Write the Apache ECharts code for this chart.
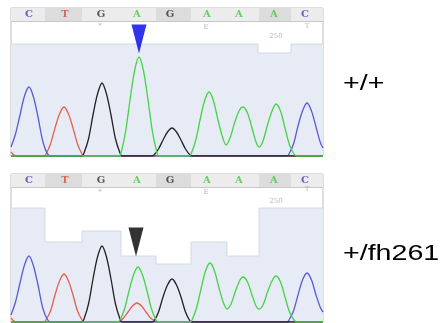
<!DOCTYPE html>
<html>
<head>
<meta charset="utf-8">
<script src="https://cdn.jsdelivr.net/npm/echarts@6/dist/echarts.min.js"></script>
<style>html,body{margin:0;padding:0;background:#fff}#c{width:443px;height:323px}</style>
</head>
<body>
<div id="c"></div>
<script>
// ---- shared data ----
const baseCalls = ['C','T','G','A','G','A','A','A','C'];
const baseCallPos = [18, 54, 90, 126, 159, 196, 228, 263, 294];
const headerCellEdges = [0, 34, 71, 110, 145, 180, 216, 248, 280, 312];
const shadedCells = [1, 4, 7];
const annotTexts = ['*', 'E', '250', 'T'];
const genotypeLabels = ['+/+', '+/fh261'];

// ---- wild type (+/+) panel ----
const wtTraceC = [[0,9],[4.5,22],[9,41],[13.5,60],[18,69],[22.5,59],[27,39],[31.5,16],[36,3],[40,0],[276,0],[278,2],[282.5,12],[287,30],[291.5,45],[296,53],[300.5,45],[305,29],[309.5,13],[312,8]];
const wtTraceT = [[0,4],[5,0],[33,0],[35,2],[39.5,12],[44,28],[48.5,42],[53,49],[57.5,42],[62,28],[66.5,12],[71,2],[73,0],[312,0]];
const wtTraceG = [[0,0],[71,0],[73,3],[77.5,17],[82,41],[86.5,62],[91,73],[95.5,62],[100,41],[104.5,17],[109,3],[111,0],[141,0],[143,1],[147.5,7],[152,16],[156.5,24],[161,28],[165.5,24],[170,16],[174.5,7],[179,1],[181,0],[312,0]];
const wtTraceA = [[0,0],[108,0],[110,3],[114.5,24],[119,56],[123.5,85],[128,99],[132.5,85],[137,56],[141.5,24],[146,3],[148,0],[178,0],[180,2],[184.5,15],[189,36],[193.5,55],[198,64],[202.5,55],[207,36],[211.5,19],[215,11],[219,18],[223.5,33],[228,45],[232,49],[236.5,43],[241,28],[245,14],[248,9],[252,15],[256.5,31],[261,45],[265,52],[269.5,45],[274,28],[278.5,11],[283,2],[286,0],[312,0]];
const wtQuality = [[0,112],[247,103],[280,112],[312,112]];
const wtAnnotPos = [[89,130],[195,129],[265,120],[296,130]];
const wtMarker = [128, 117];

// ---- mutant (+/fh261) panel ----
const mutTraceC = [[0,7],[4.5,20],[9,39],[13.5,57],[18,66],[22.5,56],[27,37],[31.5,15],[36,3],[40,0],[276,0],[278,2],[282.5,11],[287,27],[291.5,42],[296,49],[300.5,42],[305,27],[309.5,14],[312,10]];
const mutTraceT = [[0,4],[5,0],[33,0],[35,2],[39.5,11],[44,27],[48.5,41],[53,48],[57.5,41],[62,27],[66.5,11],[71,2],[73,0],[107,0],[109,1],[112.5,4],[117,10],[121.5,16],[126,19],[130.5,16],[135,10],[139.5,4],[144,1],[146,0],[312,0]];
const mutTraceG = [[0,0],[71,0],[73,3],[77.5,18],[82,43],[86.5,65],[91,76],[95.5,65],[100,43],[104.5,18],[109,3],[111,0],[141,0],[143,1],[147.5,10],[152,25],[156.5,37],[161,43],[165.5,37],[170,25],[174.5,10],[179,1],[181,0],[312,0]];
const mutTraceA = [[0,0],[107,0],[109,2],[113.5,13],[118,31],[122.5,47],[127,55],[131.5,47],[136,31],[140.5,13],[145,2],[147,0],[179,0],[181,2],[185.5,14],[190,33],[194.5,51],[199,59],[203.5,51],[208,34],[212.5,19],[216,13],[220,18],[224.5,31],[229,42],[232,45],[236.5,40],[241,27],[245,16],[248,13],[252,17],[256.5,30],[261,41],[265,46],[269.5,40],[274,25],[278.5,10],[283,2],[286,0],[312,0]];
const mutQuality = [[0,114],[34,80],[71,91],[110,66],[145,58],[180,80],[216,66],[248,114],[312,114]];
const mutAnnotPos = [[89,130],[195,130],[265,121],[296,133]];
const mutMarker = [125, 80];

const traceColors = {C:'#5a5ad6', T:'#e5604f', G:'#222222', A:'#44d444'};
const letterColors = {C:'#3f3fc4', T:'#e0473a', G:'#333333', A:'#3ccc3c'};

const panels = [
  {traces:{C:wtTraceC,T:wtTraceT,G:wtTraceG,A:wtTraceA}, quality:wtQuality, annot:wtAnnotPos, marker:wtMarker, markerColor:'#0000e6'},
  {traces:{C:mutTraceC,T:mutTraceT,G:mutTraceG,A:mutTraceA}, quality:mutQuality, annot:mutAnnotPos, marker:mutMarker, markerColor:'#000000'}
];

const grids = [
  {left:11, width:312, top:8, height:148},
  {left:11, width:312, top:174, height:148}
];

const xAxes = [], yAxes = [], series = [];
panels.forEach((p, i) => {
  xAxes.push({type:'value', gridIndex:i, min:0, max:312, show:false});
  yAxes.push({type:'value', gridIndex:i, min:0, max:148, show:false});
  const headerAreas = [];
  for (let k = 0; k < headerCellEdges.length - 1; k++) {
    headerAreas.push([
      {xAxis:headerCellEdges[k], yAxis:135, itemStyle:{color: shadedCells.includes(k) ? '#dcdcdc' : '#ececec'}},
      {xAxis:headerCellEdges[k+1], yAxis:148}
    ]);
  }
  series.push({
    type:'line', xAxisIndex:i, yAxisIndex:i, data:p.quality, step:'end', symbol:'none',
    lineStyle:{color:'#d3d9e8', width:1}, areaStyle:{color:'#e7ebf6', opacity:1}, z:1, silent:true,
    markArea:{silent:true, data:headerAreas},
    markLine:{silent:true, symbol:'none', label:{show:false}, lineStyle:{color:'#c8c8c8', type:'solid', width:1},
      data:[{yAxis:135}]}
  });
  ['T','C','G','A'].forEach(b => {
    series.push({
      type:'line', xAxisIndex:i, yAxisIndex:i, data:p.traces[b], smooth:0.3, symbol:'none',
      lineStyle:{color:traceColors[b], width:1.3}, z:3, silent:true
    });
  });
  series.push({
    type:'scatter', xAxisIndex:i, yAxisIndex:i, symbolSize:1, itemStyle:{color:'transparent'}, z:5,
    data: baseCalls.map((b, k) => ({value:[baseCallPos[k], 141.5], label:{color:letterColors[b]}})),
    label:{show:true, position:'inside', formatter:(d)=>baseCalls[d.dataIndex],
      fontFamily:'DejaVu Serif', fontWeight:'bold', fontSize:10}
  });
  series.push({
    type:'scatter', xAxisIndex:i, yAxisIndex:i, symbolSize:1, itemStyle:{color:'transparent'}, z:5,
    data: p.annot.map(v => ({value:v})),
    label:{show:true, position:'inside', formatter:(d)=>annotTexts[d.dataIndex],
      fontFamily:'DejaVu Serif', fontSize:7, color:'#a8a8a8'}
  });
  series.push({
    type:'scatter', xAxisIndex:i, yAxisIndex:i, symbol:'triangle', symbolRotate:180,
    symbolSize:[15,29], itemStyle:{color:p.markerColor}, z:6, data:[p.marker]
  });
});

const chart = echarts.init(document.getElementById('c'));
chart.setOption({
  animation:false,
  backgroundColor:'#ffffff',
  grid: grids.map(g => Object.assign({show:true, borderColor:'#bdbdbd', borderWidth:1, backgroundColor:'transparent'}, g)),
  xAxis:xAxes, yAxis:yAxes, series:series,
  graphic:[
    {type:'text', x:343, y:84, scaleX:1.3, style:{text:genotypeLabels[0], fontFamily:'Liberation Sans', fontSize:22, fill:'#000', verticalAlign:'middle', align:'left'}},
    {type:'text', x:343, y:254, scaleX:1.3, style:{text:genotypeLabels[1], fontFamily:'Liberation Sans', fontSize:22, fill:'#000', verticalAlign:'middle', align:'left'}}
  ]
});
</script>
</body>
</html>
